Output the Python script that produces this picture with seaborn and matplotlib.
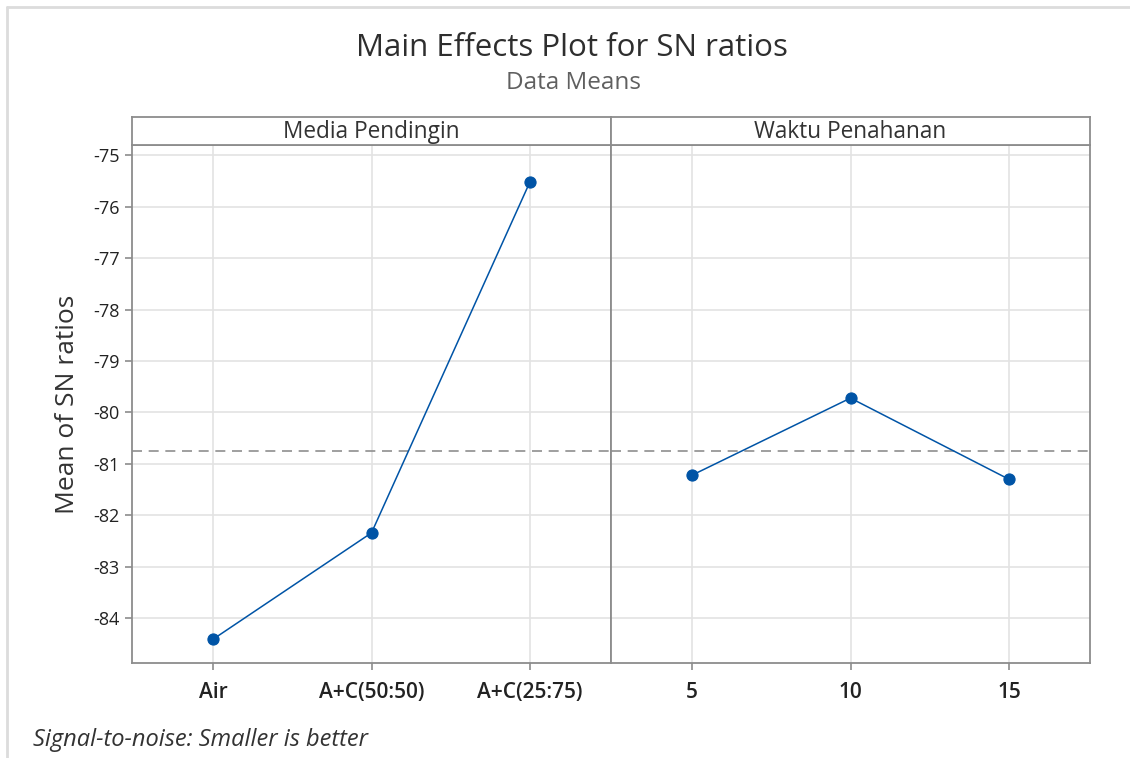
import pandas as pd
import matplotlib.pyplot as plt
import seaborn as sns
from matplotlib.lines import Line2D

# data
media_levels = ["Air", "A+C(50:50)", "A+C(25:75)"]
media_sn = [-84.41, -82.34, -75.51]
waktu_levels = ["5", "10", "15"]
waktu_sn = [-81.22, -79.72, -81.30]
yticks = [-75, -76, -77, -78, -79, -80, -81, -82, -83, -84]

df_media = pd.DataFrame({"level": media_levels, "sn": media_sn})
df_waktu = pd.DataFrame({"level": waktu_levels, "sn": waktu_sn})
grand_mean = (sum(media_sn) + sum(waktu_sn)) / (len(media_sn) + len(waktu_sn))

sns.set_theme(style="white")
plt.rcParams['font.family'] = ['Open Sans', 'DejaVu Sans']
plt.rcParams['axes.unicode_minus'] = False

fig = plt.figure(figsize=(11.3, 7.58), dpi=100)
L, R, MID = 132 / 1130, 1090 / 1130, 611 / 1130
B, T, ST = 1 - 663 / 758, 1 - 145 / 758, 1 - 117 / 758

ax1 = fig.add_axes([L, B, MID - L, T - B])
ax2 = fig.add_axes([MID, B, R - MID, T - B], sharey=ax1)
s1 = fig.add_axes([L, T, MID - L, ST - T])
s2 = fig.add_axes([MID, T, R - MID, ST - T])

blue = "#0054A6"
frame = "#8c8c8c"
for ax, d, lev in [(ax1, df_media, media_levels), (ax2, df_waktu, waktu_levels)]:
    sns.pointplot(data=d, x="level", y="sn", order=lev, ax=ax, color=blue,
                  markers="o", linewidth=1.1, markersize=8, zorder=3)
    ax.axhline(grand_mean, color="#8f8f8f", ls=(0, (6, 4)), lw=1.2, zorder=2)
    ax.set_xlim(-0.51, 2.51)
    ax.set_xlabel("")
    ax.set_ylabel("")
    for x in range(3):
        ax.axvline(x, color="#e3e3e3", lw=1.2, zorder=0)
    for y in yticks:
        ax.axhline(y, color="#e3e3e3", lw=1.2, zorder=0)
    for sp in ax.spines.values():
        sp.set_color(frame)
        sp.set_linewidth(1.3)
    ax.tick_params(axis="x", bottom=True, length=5, color=frame, width=1.2,
                   labelsize=15, labelcolor="#222222", pad=9)
    for t in ax.get_xticklabels():
        t.set_fontweight("semibold")

ax1.set_ylim(-84.87, -74.80)
ax1.set_yticks(yticks)
ax1.tick_params(axis="y", left=True, length=5, color=frame, width=1.2,
                labelsize=13, labelcolor="#222222", pad=4)
ax2.tick_params(axis="y", left=False, labelleft=False)
ax1.set_ylabel("Mean of SN ratios", fontsize=19, color="#333333", labelpad=9)

for s, name in [(s1, "Media Pendingin"), (s2, "Waktu Penahanan")]:
    s.set_xticks([])
    s.set_yticks([])
    for sp in s.spines.values():
        sp.set_color(frame)
        sp.set_linewidth(1.3)
    s.text(0.5, 0.45, name, ha="center", va="center", fontsize=16.3,
           color="#333333", transform=s.transAxes)

fig.text(572 / 1130, 1 - 48 / 758, "Main Effects Plot for SN ratios",
         ha="center", va="center", fontsize=22.5, color="#2e2e2e",
         fontweight="medium")
fig.text(573 / 1130, 1 - 83 / 758, "Data Means", ha="center", va="center",
         fontsize=17.5, color="#606060")
fig.text(33 / 1130, 1 - 740 / 758, "Signal-to-noise: Smaller is better",
         ha="left", va="center", fontsize=17, style="italic", color="#333333")

# outer window border
fig.add_artist(Line2D([7 / 1130, 1], [1 - 7 / 758, 1 - 7 / 758],
                      transform=fig.transFigure, color="#dcdcdc", lw=2))
fig.add_artist(Line2D([7 / 1130, 7 / 1130], [0, 1 - 7 / 758],
                      transform=fig.transFigure, color="#dcdcdc", lw=2))

fig.savefig("out.png", dpi=100)
